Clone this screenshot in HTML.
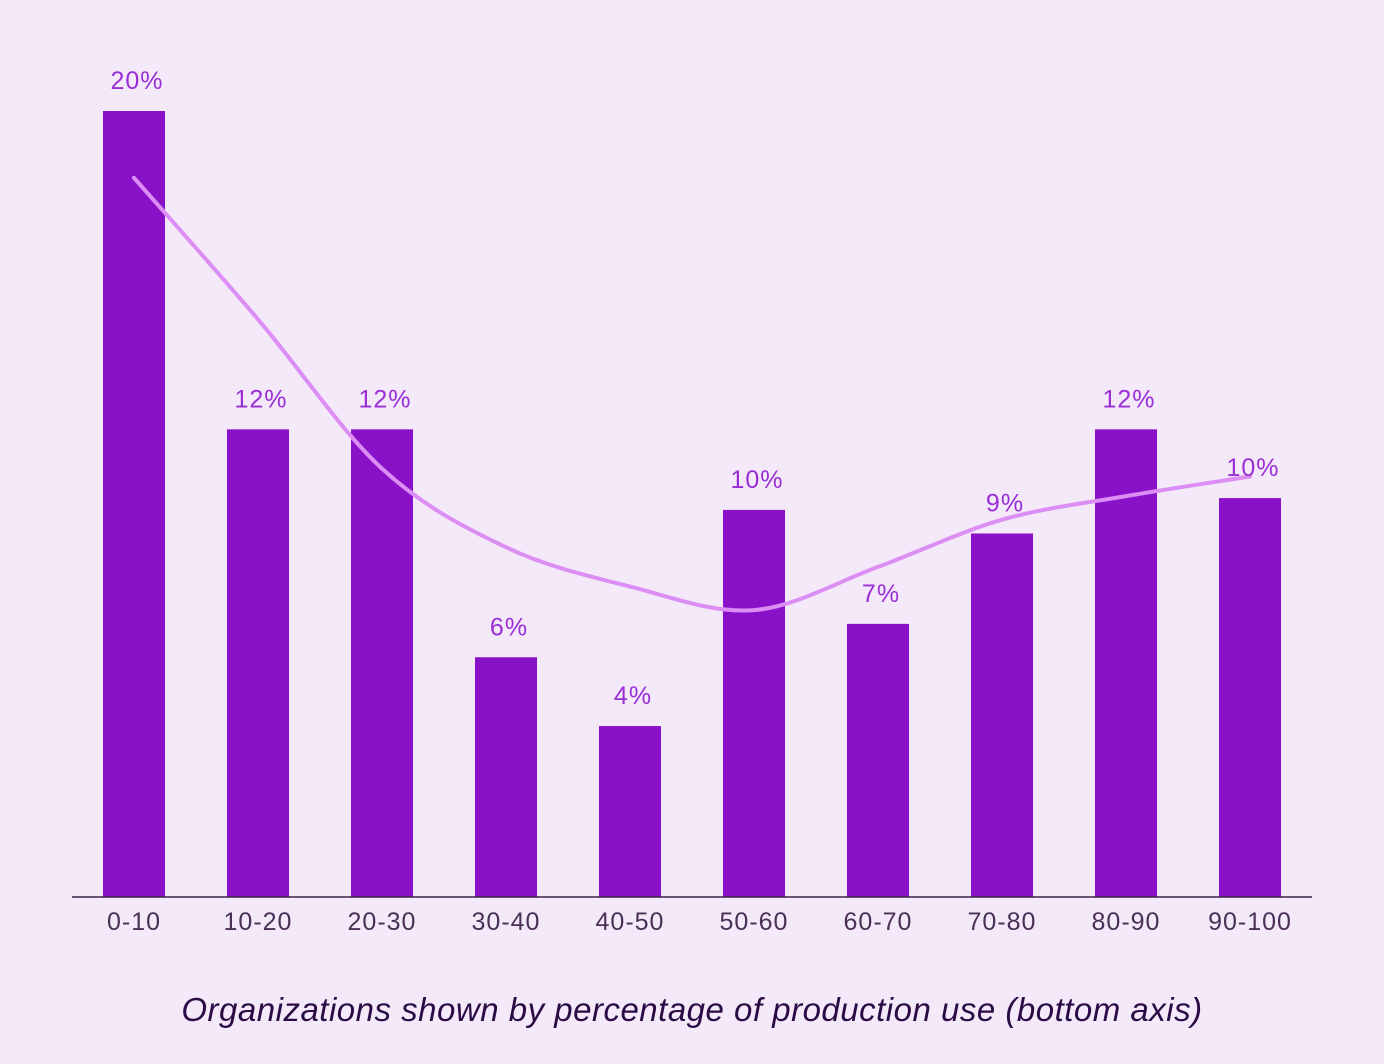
<!DOCTYPE html>
<html><head><meta charset="utf-8"><style>
html,body{margin:0;padding:0;background:#f3e9f8;}
svg{display:block;}
</style></head><body>
<svg id="chart" width="1384" height="1064" viewBox="0 0 1384 1064" xmlns="http://www.w3.org/2000/svg">
<rect x="0" y="0" width="1384" height="1064" fill="#f3e9f8"/>
<g id="bars"></g>
<path id="trend" fill="none" stroke="#dc8ef4" stroke-width="4" stroke-linecap="round"/>
<g id="labels"></g>
<line x1="72" y1="897" x2="1312" y2="897" stroke="#3a2045" stroke-width="1.5"/>
<g id="ticks"></g>
<text x="692" y="1021" text-anchor="middle" font-family="Liberation Sans, sans-serif" font-style="italic" font-size="33" letter-spacing="0.5" fill="#2b0b45">Organizations shown by percentage of production use (bottom axis)</text>
</svg>
<script>
const categories = ["0-10","10-20","20-30","30-40","40-50","50-60","60-70","70-80","80-90","90-100"];
const values = [20, 11.9, 11.9, 6.1, 4.35, 9.85, 6.95, 9.25, 11.9, 10.15];
const valueLabels = ["20%","12%","12%","6%","4%","10%","7%","9%","12%","10%"];
const trendValues = [18.3, 14.7, 10.9, 8.9, 7.9, 7.3, 8.4, 9.6, 10.2, 10.7];

const NS = "http://www.w3.org/2000/svg";
const left = 72, right = 1312, base = 897, pxPerUnit = 39.3;
const band = (right - left) / categories.length;
const xc = i => left + band * (i + 0.5);
const y = v => base - v * pxPerUnit;
const barW = 62;

const gb = document.getElementById('bars');
const gl = document.getElementById('labels');
const gt = document.getElementById('ticks');
categories.forEach((c, i) => {
  const r = document.createElementNS(NS, 'rect');
  r.setAttribute('x', xc(i) - barW / 2);
  r.setAttribute('y', y(values[i]));
  r.setAttribute('width', barW);
  r.setAttribute('height', base - y(values[i]));
  r.setAttribute('fill', '#8912c8');
  
  
  gb.appendChild(r);

  const t = document.createElementNS(NS, 'text');
  t.setAttribute('x', xc(i) + 3);
  t.setAttribute('y', y(values[i]) - 22);
  t.setAttribute('text-anchor', 'middle');
  t.setAttribute('font-family', 'Liberation Sans, sans-serif');
  t.setAttribute('font-size', '25');
  t.setAttribute('letter-spacing', '1');
  t.setAttribute('fill', '#9a2ed6');
  t.textContent = valueLabels[i];
  
  
  gl.appendChild(t);

  const k = document.createElementNS(NS, 'text');
  k.setAttribute('x', xc(i));
  k.setAttribute('y', 930);
  k.setAttribute('text-anchor', 'middle');
  k.setAttribute('font-family', 'Liberation Sans, sans-serif');
  k.setAttribute('font-size', '25');
  k.setAttribute('letter-spacing', '1');
  k.setAttribute('fill', '#4a3056');
  k.textContent = c;
  
  
  gt.appendChild(k);
});

const pts = trendValues.map((v, i) => [xc(i), y(v)]);
let d = 'M' + pts[0][0] + ',' + pts[0][1];
for (let i = 0; i < pts.length - 1; i++) {
  const p0 = pts[Math.max(i - 1, 0)], p1 = pts[i], p2 = pts[i + 1], p3 = pts[Math.min(i + 2, pts.length - 1)];
  const c1 = [p1[0] + (p2[0] - p0[0]) / 6, p1[1] + (p2[1] - p0[1]) / 6];
  const c2 = [p2[0] - (p3[0] - p1[0]) / 6, p2[1] - (p3[1] - p1[1]) / 6];
  d += ' C' + c1[0] + ',' + c1[1] + ' ' + c2[0] + ',' + c2[1] + ' ' + p2[0] + ',' + p2[1];
}
document.getElementById('trend').setAttribute('d', d);
</script>
</body></html>
